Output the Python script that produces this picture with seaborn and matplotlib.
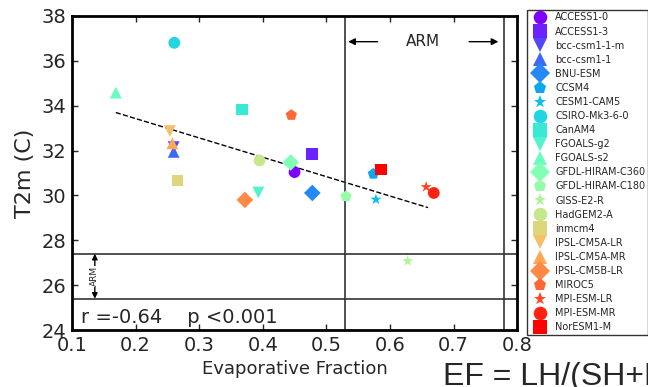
import numpy as np
import pandas as pd
import matplotlib
matplotlib.use('Agg')
import matplotlib.pyplot as plt
import seaborn as sns

# model names, in legend order
models = ['ACCESS1-0', 'ACCESS1-3', 'bcc-csm1-1-m', 'bcc-csm1-1', 'BNU-ESM',
          'CCSM4', 'CESM1-CAM5', 'CSIRO-Mk3-6-0', 'CanAM4', 'FGOALS-g2',
          'FGOALS-s2', 'GFDL-HIRAM-C360', 'GFDL-HIRAM-C180', 'GISS-E2-R',
          'HadGEM2-A', 'inmcm4', 'IPSL-CM5A-LR', 'IPSL-CM5A-MR', 'IPSL-CM5B-LR',
          'MIROC5', 'MPI-ESM-LR', 'MPI-ESM-MR', 'NorESM1-M']

# evaporative fraction (x) and 2 m temperature (y)
ef = [0.450, 0.478, 0.260, 0.260, 0.478,
      0.574, 0.578, 0.261, 0.368, 0.393,
      0.169, 0.444, 0.531, 0.628,
      0.395, 0.266, 0.254, 0.258, 0.372,
      0.445, 0.657, 0.669, 0.586]
t2m = [31.04, 31.84, 32.15, 31.94, 30.11,
       30.96, 29.82, 36.80, 33.83, 30.13,
       34.58, 31.47, 29.96, 27.08,
       31.56, 30.67, 32.87, 32.32, 29.80,
       33.58, 30.38, 30.11, 31.16]

# observed ARM range
arm_ef = [0.53, 0.78]
arm_t2m = [25.4, 27.4]

marker_cycle = ['o', 's', 'v', '^', 'D', 'p', '*']

df = pd.DataFrame({'model': models, 'ef': ef, 't2m': t2m})
cols = plt.cm.rainbow(np.linspace(0, 1, len(models)))
palette = {m: cols[i] for i, m in enumerate(models)}
markers = {m: marker_cycle[i % 7] for i, m in enumerate(models)}

sns.set_style('white')
plt.rcParams.update({
    'font.family': ['DejaVu Sans'],
    'xtick.direction': 'in', 'ytick.direction': 'in',
    'xtick.top': True, 'ytick.right': True,
    'xtick.major.size': 4, 'ytick.major.size': 4,
    'xtick.bottom': True, 'ytick.left': True,
    'axes.linewidth': 2, 'axes.edgecolor': 'black',
})

fig = plt.figure(figsize=(6.48, 3.87), dpi=100)
ax = fig.add_axes([0.111, 0.147, 0.687, 0.812])

sns.scatterplot(data=df, x='ef', y='t2m', hue='model', style='model',
                palette=palette, markers=markers, s=72, linewidth=0,
                legend='full', ax=ax, zorder=3)

# linear fit through the models
m, b = np.polyfit(df['ef'], df['t2m'], 1)
xx = np.array([df['ef'].min(), 0.66])
ax.plot(xx, m * xx + b, 'k--', lw=1)

# ARM box
for v in arm_ef:
    ax.axvline(v, color='#333333', lw=1.2)
for h in arm_t2m:
    ax.axhline(h, color='#333333', lw=1.2)

ax.annotate('', xy=(arm_ef[0], 36.85), xytext=(0.585, 36.85),
            arrowprops=dict(arrowstyle='-|>', color='black', lw=1))
ax.annotate('', xy=(0.775, 36.85), xytext=(0.72, 36.85),
            arrowprops=dict(arrowstyle='-|>', color='black', lw=1))
ax.text(0.652, 36.85, 'ARM', ha='center', va='center', fontsize=11)

ax.annotate('', xy=(0.136, arm_t2m[1]), xytext=(0.136, arm_t2m[0]),
            arrowprops=dict(arrowstyle='<|-|>', color='black', lw=1,
                            shrinkA=0, shrinkB=0, mutation_scale=8))
ax.text(0.136, 26.4, 'ARM', rotation=90, ha='center', va='center',
        fontsize=6.5, bbox=dict(fc='white', ec='none', pad=0.2))

ax.text(0.115, 24.3, 'r =-0.64    p <0.001', fontsize=14)

ax.set_xlim(0.1, 0.8)
ax.set_ylim(24, 38)
ax.set_xticks(np.arange(0.1, 0.81, 0.1))
ax.set_xticklabels(['0.1', '0.2', '0.3', '0.4', '0.5', '0.6', '0.7', '0.8'])
ax.set_yticks(np.arange(24, 39, 2))
ax.tick_params(labelsize=14, width=1, pad=4)
ax.set_xlabel('Evaporative Fraction', fontsize=13)
ax.set_ylabel('T2m (C)', fontsize=16, labelpad=5)

sns.move_legend(ax, 'upper left', bbox_to_anchor=(1.0225, 1.02), title=None,
                fontsize=7, frameon=True, borderaxespad=0, labelspacing=0.42,
                handletextpad=0.6, borderpad=0.3, markerscale=1.15)
leg = ax.get_legend()
leg.get_frame().set_edgecolor('black')
leg.get_frame().set_linewidth(1)
leg.get_frame().set_boxstyle('square', pad=0)

fig.text(0.684, 0.005, 'EF = LH/(SH+LH)', fontsize=23, va='baseline',
         family=['Liberation Sans', 'DejaVu Sans'])

fig.savefig('out.png', dpi=100)
